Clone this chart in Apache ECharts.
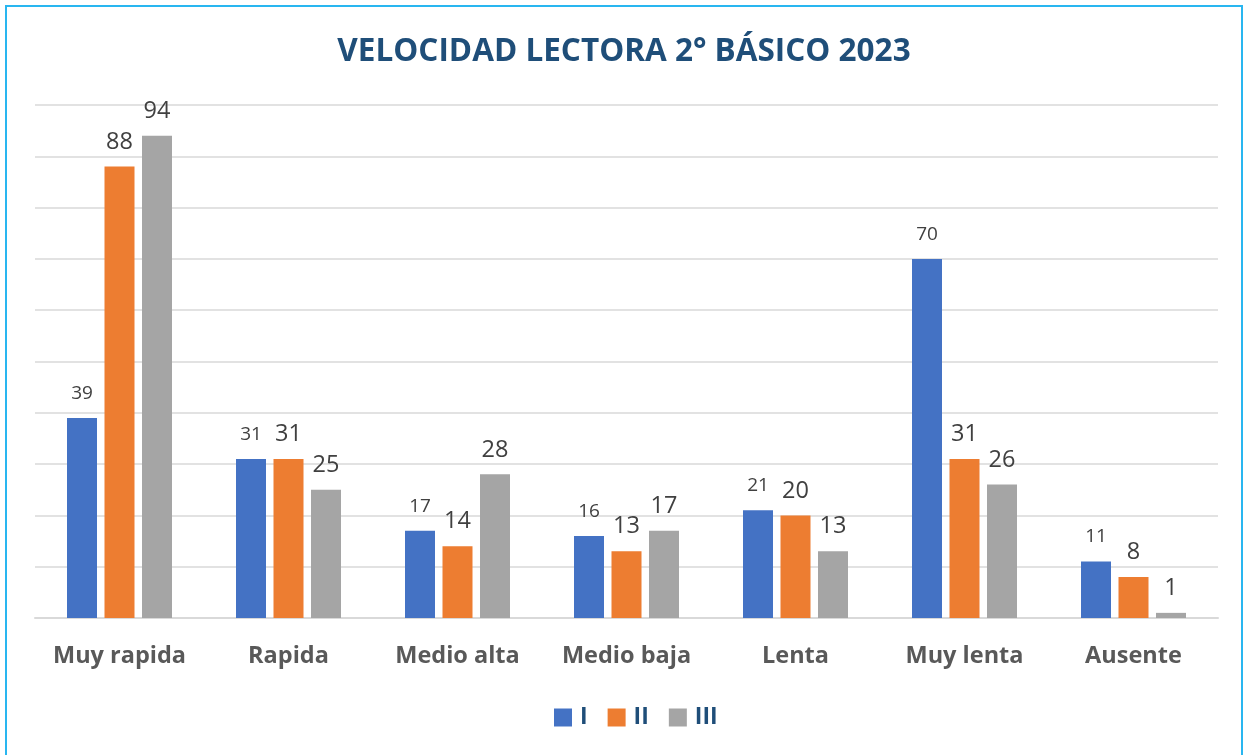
<!DOCTYPE html>
<html><head><meta charset="utf-8">
<script src="https://cdn.jsdelivr.net/npm/echarts@6/dist/echarts.min.js"></script>
<style>html,body{margin:0;padding:0;background:#fff}#c{width:1248px;height:755px}
#frame{position:absolute;left:5px;top:5px;width:1238px;height:760px;border:2px solid #29b6f0;box-sizing:border-box;pointer-events:none}</style>
</head><body><div id="c"></div><div id="frame"></div>
<script>
const categories = ['Muy rapida','Rapida','Medio alta','Medio baja','Lenta','Muy lenta','Ausente'];
const seriesI = [39,31,17,16,21,70,11];
const seriesII = [88,31,14,13,20,31,8];
const seriesIII = [94,25,28,17,13,26,1];
const seriesNames = ['I','II','III'];
const colors = ['#4472c4','#ed7d31','#a5a5a5'];
const font = '"Open Sans", "Noto Sans", sans-serif';
const chart = echarts.init(document.getElementById('c'));
function mk(name, data, color, fs, dist){
  return {name, type:'bar', data, barWidth:30, barGap:'25%',
    itemStyle:{color},
    label:{show:true, position:'top', distance:dist, fontSize:fs, color:'#404040', fontFamily:font}};
}
chart.setOption({
  animation:false,
  title:{text:'VELOCIDAD LECTORA 2° BÁSICO 2023', left:'center', top:31,
    textStyle:{fontSize:31.5, fontWeight:'bold', color:'#1f4e79', fontFamily:font}},
  legend:{bottom:21, left:549, itemWidth:18, itemHeight:18, itemGap:20,
    icon:'rect',
    textStyle:{fontSize:23, fontWeight:'bold', color:'#1f4e79', fontFamily:font, padding:[0,0,0,3]}},
  grid:{left:35, right:30, top:105, bottom:137},
  xAxis:{type:'category', data:categories,
    axisLine:{lineStyle:{color:'#d9d9d9', width:2}}, axisTick:{show:false},
    axisLabel:{interval:0, fontSize:23.5, fontWeight:'bold', color:'#595959', margin:26, fontFamily:font}},
  yAxis:{type:'value', min:0, max:100, interval:10,
    axisLabel:{show:false}, axisLine:{show:false}, axisTick:{show:false},
    splitLine:{lineStyle:{color:'#d9d9d9', width:1.5}}},
  series:[mk(seriesNames[0], seriesI, colors[0], 19, 15),
          mk(seriesNames[1], seriesII, colors[1], 23.5, 12.5),
          mk(seriesNames[2], seriesIII, colors[2], 23.5, 12.5)]
});
</script></body></html>
